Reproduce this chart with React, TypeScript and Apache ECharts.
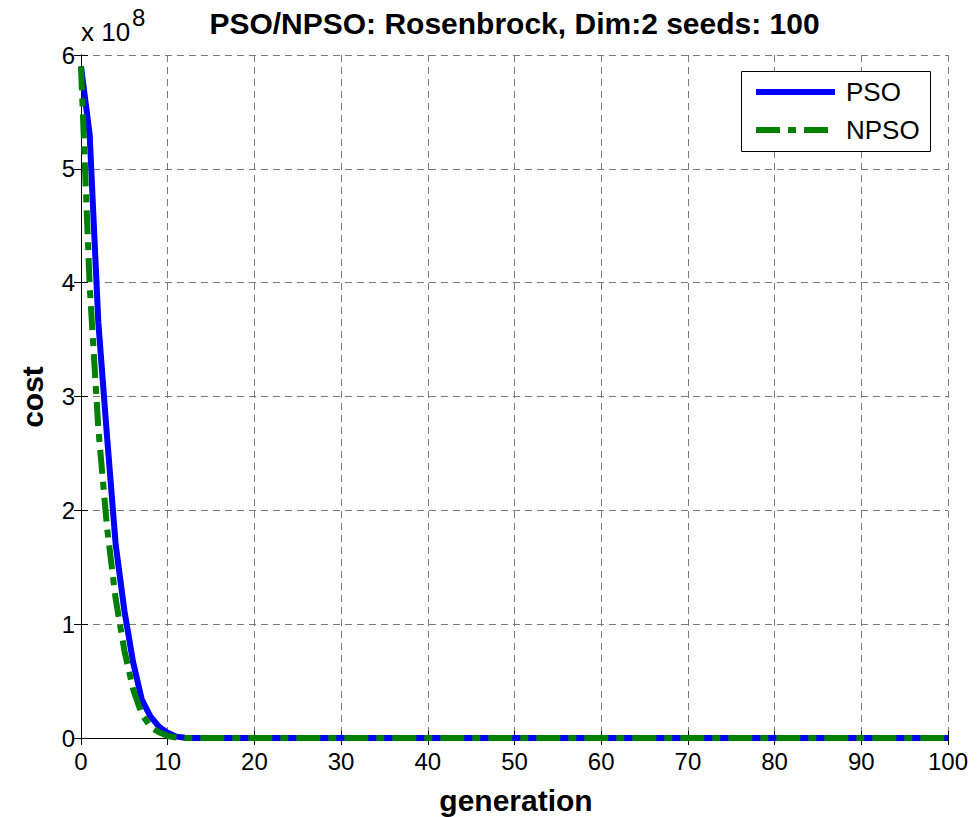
import React, { useEffect, useRef } from "react";
import * as echarts from "echarts";

// generation index (flat near zero after ~12, ending at 100)
const generations = [0, 1, 2, 3, 4, 5, 6, 7, 8, 9, 10, 11, 12, 13, 14, 100];
// cost values in units of 1e8
const psoCost = [5.9, 5.3, 3.65, 2.65, 1.7, 1.12, 0.67, 0.34, 0.19, 0.1, 0.045, 0.012, 0.003, 0, 0, 0];
const npsoCost = [5.9, 3.97, 2.72, 1.85, 1.22, 0.77, 0.43, 0.21, 0.1, 0.05, 0.018, 0.004, 0.001, 0, 0, 0];

const xTicks = { min: 0, max: 100, interval: 10 };
const yTicks = { min: 0, max: 6, interval: 1 };

const titleText = "PSO/NPSO: Rosenbrock, Dim:2 seeds: 100";
const xLabel = "generation";
const yLabel = "cost";
const seriesNames = ["PSO", "NPSO"];
const exponentBase = "x 10";
const exponent = "8";

const FONT = "'Liberation Sans', Arial, Helvetica, sans-serif";
const BLUE = "#0000ff";
const GREEN = "#008000";
const DASHDOT = [24, 8, 8, 8];

export default function App() {
  const ref = useRef<HTMLDivElement>(null);

  useEffect(() => {
    if (!ref.current) return;
    const chart = echarts.init(ref.current, null, { renderer: "svg" });

    const gridLeft = 81;
    const gridTop = 55;
    const gridRight = 977 - 948;
    const gridBottom = 817 - 738;

    const axisCommon = {
      axisLine: { show: true, lineStyle: { color: "#000", width: 1 } },
      axisTick: { show: true, inside: true, length: 7, lineStyle: { color: "#000", width: 1 } },
    };

    const option: any = {
      animation: false,
      backgroundColor: "#fff",
      grid: { left: gridLeft, right: gridRight, top: gridTop, bottom: gridBottom, containLabel: false },
      xAxis: [
        {
          type: "value",
          position: "bottom",
          ...xTicks,
          ...axisCommon,
          axisLabel: { color: "#000", fontSize: 24, fontFamily: FONT, margin: 11 },
          splitLine: { show: true, lineStyle: { color: "#7a7a7a", type: [7, 5], width: 1 } },
        },
        {
          type: "value",
          position: "top",
          ...xTicks,
          ...axisCommon,
          axisLabel: { show: false },
          splitLine: { show: false },
        },
      ],
      yAxis: [
        {
          type: "value",
          position: "left",
          ...yTicks,
          ...axisCommon,
          axisLabel: { color: "#000", fontSize: 24, fontFamily: FONT, margin: 6 },
          splitLine: { show: true, lineStyle: { color: "#7a7a7a", type: [7, 5], width: 1 } },
        },
        {
          type: "value",
          position: "right",
          ...yTicks,
          ...axisCommon,
          axisLabel: { show: false },
          splitLine: { show: false },
        },
      ],
      series: [
        {
          name: seriesNames[0],
          type: "line",
          xAxisIndex: 0,
          yAxisIndex: 0,
          showSymbol: false,
          symbol: "none",
          lineStyle: { color: BLUE, width: 6, type: "solid" },
          data: generations.map((g, i) => [g, psoCost[i]]),
          z: 3,
        },
        {
          name: seriesNames[1],
          type: "line",
          xAxisIndex: 0,
          yAxisIndex: 0,
          showSymbol: false,
          symbol: "none",
          lineStyle: { color: GREEN, width: 6, type: DASHDOT, cap: "butt" },
          data: generations.map((g, i) => [g, npsoCost[i]]),
          z: 4,
        },
      ],
      graphic: [
        {
          type: "text",
          x: 514.5,
          y: 23,
          style: {
            text: titleText,
            fill: "#000",
            font: `bold 30px ${FONT}`,
            textAlign: "center",
            textVerticalAlign: "middle",
          },
        },
        {
          type: "text",
          x: 81,
          y: 32,
          style: {
            text: exponentBase,
            fill: "#000",
            font: `26px ${FONT}`,
            textAlign: "left",
            textVerticalAlign: "middle",
          },
        },
        {
          type: "text",
          x: 132,
          y: 17,
          style: {
            text: exponent,
            fill: "#000",
            font: `24px ${FONT}`,
            textAlign: "left",
            textVerticalAlign: "middle",
          },
        },
        {
          type: "text",
          x: 516,
          y: 800,
          style: {
            text: xLabel,
            fill: "#000",
            font: `bold 30px ${FONT}`,
            textAlign: "center",
            textVerticalAlign: "middle",
          },
        },
        {
          type: "text",
          x: 32,
          y: 397,
          rotation: Math.PI / 2,
          style: {
            text: yLabel,
            fill: "#000",
            font: `bold 30px ${FONT}`,
            textAlign: "center",
            textVerticalAlign: "middle",
          },
        },
        // legend box
        {
          type: "rect",
          shape: { x: 741.5, y: 71.5, width: 189, height: 80 },
          style: { fill: "#fff", stroke: "#000", lineWidth: 1 },
          z: 10,
        },
        {
          type: "line",
          shape: { x1: 756, y1: 92, x2: 835, y2: 92 },
          style: { stroke: BLUE, lineWidth: 6 },
          z: 11,
        },
        {
          type: "text",
          x: 846,
          y: 92,
          style: {
            text: seriesNames[0],
            fill: "#000",
            font: `26px ${FONT}`,
            textAlign: "left",
            textVerticalAlign: "middle",
          },
          z: 11,
        },
        {
          type: "line",
          shape: { x1: 756, y1: 130, x2: 835, y2: 130 },
          style: { stroke: GREEN, lineWidth: 6, lineDash: DASHDOT },
          z: 11,
        },
        {
          type: "text",
          x: 846,
          y: 130,
          style: {
            text: seriesNames[1],
            fill: "#000",
            font: `26px ${FONT}`,
            textAlign: "left",
            textVerticalAlign: "middle",
          },
          z: 11,
        },
      ],
    };

    chart.setOption(option);
    return () => chart.dispose();
  }, []);

  return (
    <div
      ref={ref}
      style={{ position: "absolute", left: 0, top: 0, width: 977, height: 817, background: "#fff" }}
    />
  );
}
